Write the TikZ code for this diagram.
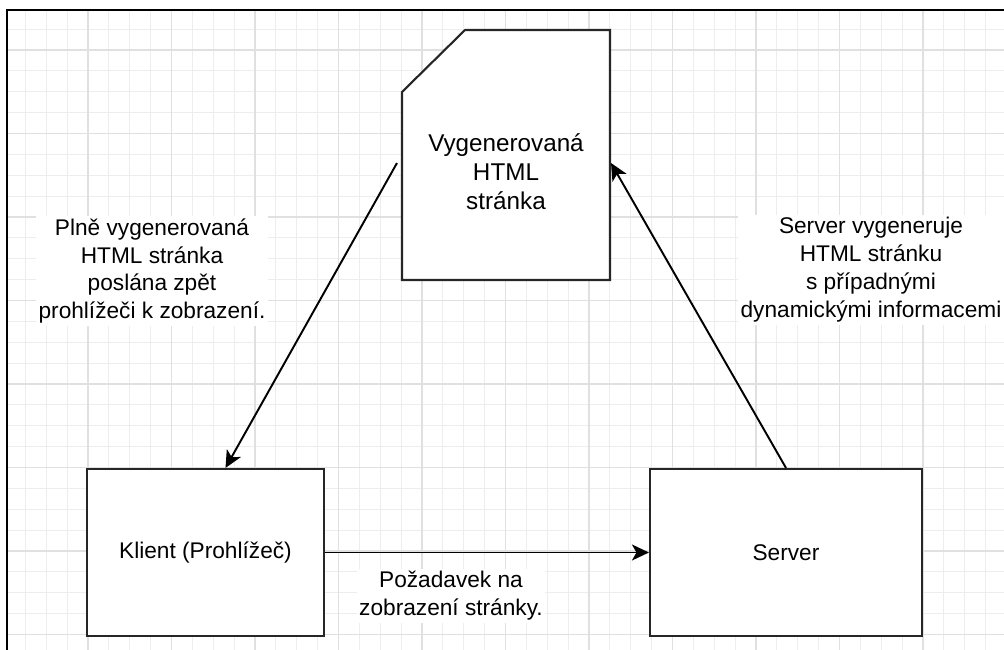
\documentclass[tikz,border=0pt]{standalone}
\usepackage{fontspec}
\setmainfont{Liberation Sans}
\usetikzlibrary{arrows.meta,calc,positioning}

\tikzset{
  box/.style={draw=black!85,line width=1.2pt,fill=white},
  lbl/.style={fill=white,align=center,inner sep=1.5pt},
  flow/.style={line width=1.1pt,-{Stealth[length=0.34cm,width=0.32cm,inset=0.09cm]}},
}

\begin{document}
\begin{tikzpicture}[font=\fontsize{12.9}{15.9}\selectfont]
		\useasboundingbox (0,0) rectangle (20.08,-13);
		% grid background
		\begin{scope}[shift={(1.76,-1.0)}]
			\draw[gray!14,line width=0.55pt,step=0.4175] (-1.62,0.8) grid (18.32,-12);
			\draw[gray!24,line width=0.65pt,step=1.67] (-1.62,0.8) grid (18.32,-12);
		\end{scope}
		\draw[line width=1.5pt] (0.14,-13) -- (0.14,-0.2) -- (20.08,-0.2);
		% generated page
		\draw[box] (8.04,-1.84) -- (9.3,-0.6) -- (12.2,-0.6) -- (12.2,-5.6) -- (8.04,-5.6) -- cycle;
		\node[align=center,font=\fontsize{13.8}{16.5}\selectfont] (page) at (10.12,-3.44) {Vygenerovaná\\HTML\\stránka};
		\coordinate (pageL) at (7.94,-3.26);
		\coordinate (pageR) at (12.22,-3.26);
		% client and server
		\node[box,minimum width=4.74cm,minimum height=3.34cm] (client) at (4.11,-11.05) {Klient (Prohlížeč)};
		\node[box,minimum width=5.44cm,minimum height=3.34cm] (server) at (15.72,-11.05) {Server};
		% arrows
		\draw[flow] (client.east) -- (server.west);
		\draw[flow] (server.north) -- (pageR);
		\draw[flow] (pageL) -- ([xshift=0.4cm]client.north);
		% labels
		\node[lbl] (back) at (3.04,-5.42) {Plně vygenerovaná\\HTML stránka\\poslána zpět\\prohlížeči k zobrazení.};
		\node[lbl] (gen) at (17.42,-5.4) {Server vygeneruje\\HTML stránku\\s případnými\\dynamickými informacemi};
		\node[lbl] (req) at (9.02,-11.92) {Požadavek na\\zobrazení stránky.};
\end{tikzpicture}
\end{document}
